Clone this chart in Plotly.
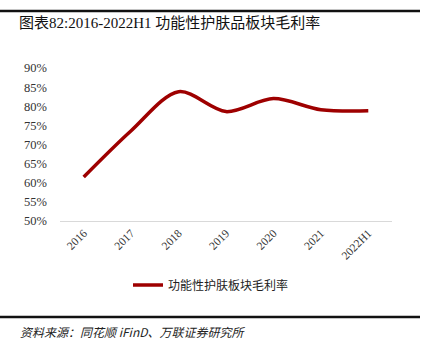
import plotly.graph_objects as go

categories = ["2016", "2017", "2018", "2019", "2020", "2021", "2022H1"]
gross_margin = [61.5, 73.6, 83.8, 78.6, 82.0, 79.1, 78.8]
y_ticks = [50, 55, 60, 65, 70, 75, 80, 85, 90]
y_tick_labels = [f"{v}%" for v in y_ticks]
series_name = "功能性护肤板块毛利率"
title_text = "图表82:2016-2022H1 功能性护肤品板块毛利率"
source_text = "资料来源：同花顺 iFinD、万联证券研究所"

W, H = 423, 345
ML, MR, MT, MB = 60, 31, 68, 124
PW, PH = W - ML - MR, H - MT - MB

def px_x(x):
    return (x - ML) / PW

def px_y(y):
    return (H - MB - y) / PH

fig = go.Figure()
fig.add_trace(go.Scatter(
    x=categories, y=gross_margin, mode="lines", name=series_name,
    line=dict(color="#9E0000", width=3.5, shape="spline", smoothing=0.9),
))

serif = "Liberation Serif, Noto Sans CJK SC, serif"
fig.update_layout(
    width=W, height=H,
    margin=dict(l=ML, r=MR, t=MT, b=MB),
    paper_bgcolor="white", plot_bgcolor="white",
    showlegend=True,
    legend=dict(orientation="h", x=px_x(128), y=px_y(285), xanchor="left", yanchor="middle",
                font=dict(family="Noto Sans CJK SC", size=12, color="#222"),
                itemwidth=30),
    xaxis=dict(type="category", range=[-0.5, 6.5], showgrid=False, showline=True,
               linecolor="#d9d9d9", linewidth=1,
               ticks="", tickangle=-45, tickfont=dict(family=serif, size=11.5, color="#333")),
    yaxis=dict(range=[50, 90], tickvals=y_ticks, ticktext=y_tick_labels, showgrid=False,
               zeroline=False, showline=False, ticks="", ticklabelstandoff=12,
               tickfont=dict(family=serif, size=12.5, color="#333")),
)

# top rules and title
fig.add_shape(type="line", xref="paper", yref="paper", x0=px_x(0), x1=px_x(420),
              y0=px_y(11), y1=px_y(11), line=dict(color="#111", width=2.5))
fig.add_shape(type="line", xref="paper", yref="paper", x0=px_x(0), x1=px_x(420),
              y0=px_y(317), y1=px_y(317), line=dict(color="#111", width=2.5))
fig.add_annotation(text=title_text, xref="paper", yref="paper", x=px_x(17), y=px_y(23),
                   xanchor="left", yanchor="middle", showarrow=False,
                   font=dict(family=serif, size=15, color="#111"))
fig.add_annotation(text="<i>" + source_text + "</i>", xref="paper", yref="paper",
                   x=px_x(18), y=px_y(331), xanchor="left", yanchor="middle", showarrow=False,
                   font=dict(family="Noto Sans CJK SC", size=12, color="#222"))

fig.write_html("out.html")
